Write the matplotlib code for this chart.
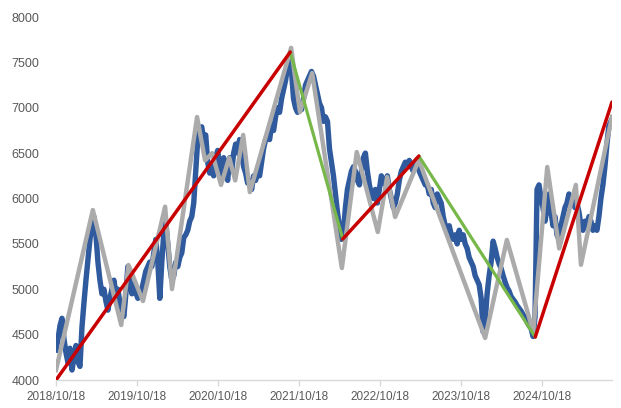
import matplotlib
matplotlib.use("Agg")
import matplotlib.pyplot as plt
import pandas as pd

# ---- data ----
blue_start = "2018-10-18"
blue_step_days = 9
blue_values = [
    4330, 4450, 4600, 4680, 4450, 4300, 4190, 4350, 4110, 4250,
    4380, 4200, 4150, 4580, 4850, 5100, 5320, 5550, 5700, 5800,
    5600, 5300, 5100, 4950, 5000, 4870, 4770, 4900, 5000, 5100,
    4950, 5000, 4850, 4750, 4700, 4950, 5250, 5100, 4950, 5050,
    4960, 4900, 4950, 5000, 5100, 5200, 5250, 5300, 5250, 5400,
    5550, 5300, 4900, 5300, 5620, 5730, 5500, 5250, 5100, 5150,
    5300, 5250, 5350, 5400, 5570, 5600, 5650, 5750, 5800, 5950,
    6300, 6650, 6750, 6790, 6650, 6700, 6400, 6280, 6350, 6250,
    6450, 6530, 6350, 6250, 6450, 6300, 6200, 6450, 6300, 6500,
    6600, 6500, 6650, 6500, 6350, 6280, 6170, 6200, 6100, 6250,
    6200, 6300, 6250, 6400, 6550, 6650, 6700, 6650, 6800, 6750,
    6900, 7000, 6950, 7100, 7200, 7300, 7450, 7550, 7400, 7100,
    7000, 6950, 7050, 6980, 7100, 7250, 7300, 7350, 7400, 7350,
    7250, 7150, 7050, 7000, 6850, 6900, 6850, 6550, 6400, 6250,
    6050, 5850, 5700, 5550, 5620, 5900, 6100, 6200, 6300, 6350,
    6300, 6200, 6150, 6300, 6450, 6500, 6300, 6150, 6050, 6000,
    6100, 5950, 6100, 6250, 6200, 6150, 6250, 6100, 6000, 5900,
    5950, 6050, 6200, 6300, 6350, 6400, 6380, 6420, 6350, 6300,
    6400, 6430, 6300, 6250, 6200, 6150, 6150, 6050, 6100, 5950,
    5900, 6050, 6000, 5950, 5800, 5700, 5650, 5700, 5600, 5550,
    5600, 5500, 5650, 5550, 5600, 5500, 5450, 5350, 5300, 5250,
    5150, 5100, 5050, 4900, 4530, 4650, 4950, 5150, 5300, 5530,
    5450, 5350, 5280, 5230, 5150, 5080, 5020, 4980, 4920, 4890,
    4860, 4820, 4790, 4760, 4720, 4690, 4640, 4600, 4570, 4480,
    4700, 6100, 6150, 6000, 5900, 5750, 5900, 6050, 5850, 5700,
    5800, 5600, 5550, 5700, 5800, 5900, 5950, 6050, 5950, 6000,
    5900, 5950, 5850, 5700, 5650, 5750, 5700, 5800, 5750, 5650,
    5700, 5650, 5800, 6000, 6150, 6350, 6600, 6800, 6850,
]

gray_dates = [
    "2018-10-18", "2019-04-02", "2019-08-08", "2019-09-10", "2019-11-14",
    "2020-02-22", "2020-03-24", "2020-07-15", "2020-08-20", "2020-09-21",
    "2020-10-31", "2020-12-07", "2021-01-03", "2021-02-08", "2021-03-10",
    "2021-09-12", "2021-10-22", "2021-12-16", "2022-04-29", "2022-07-05",
    "2022-10-08", "2022-11-19", "2022-12-25", "2023-04-11", "2024-02-04",
    "2024-05-12", "2024-09-08", "2024-11-10", "2025-01-03", "2025-03-19",
    "2025-04-11", "2025-08-29",
]
gray_values = [
    4110, 5873, 4606, 5267, 4870,
    5910, 5002, 6898, 6420, 6500,
    6150, 6450, 6200, 6700, 6070,
    7660, 6953, 7383, 5234, 6512,
    5631, 6237, 5796, 6424, 4463,
    5543, 4530, 6347, 5450, 6150,
    5270, 6900,
]

red_segments = [
    (("2018-10-18", 4000), ("2021-09-08", 7614)),
    (("2022-05-03", 5554), ("2023-04-11", 6468)),
    (("2024-09-17", 4474), ("2025-08-29", 7063)),
]
green_segments = [
    (("2021-09-08", 7614), ("2022-05-03", 5554)),
    (("2023-04-11", 6468), ("2024-09-17", 4474)),
]

tick_dates = ["2018-10-18", "2019-10-18", "2020-10-18", "2021-10-18",
              "2022-10-18", "2023-10-18", "2024-10-18"]
tick_labels = ["2018/10/18", "2019/10/18", "2020/10/18", "2021/10/18",
               "2022/10/18", "2023/10/18", "2024/10/18"]
y_ticks = [4000, 4500, 5000, 5500, 6000, 6500, 7000, 7500, 8000]

# ---- figure ----
plt.rcParams["font.family"] = ["Liberation Sans", "DejaVu Sans"]
fig = plt.figure(figsize=(6.21, 4.08), dpi=100)
ax = fig.add_axes([0.0902, 0.0686, 0.8953, 0.8897])

blue_dates = pd.date_range(blue_start, periods=len(blue_values),
                           freq=f"{blue_step_days}D")
ax.plot(blue_dates, blue_values, color="#2F5A9E", lw=3.9,
        solid_joinstyle="round", zorder=2)
ax.plot(pd.to_datetime(gray_dates), gray_values, color="#ABABAB", lw=3.2,
        solid_joinstyle="round", zorder=3)
for (d0, v0), (d1, v1) in green_segments:
    ax.plot(pd.to_datetime([d0, d1]), [v0, v1], color="#78B84A", lw=2.3,
            solid_capstyle="round", zorder=4)
for (d0, v0), (d1, v1) in red_segments:
    ax.plot(pd.to_datetime([d0, d1]), [v0, v1], color="#C80000", lw=2.5,
            solid_capstyle="round", zorder=5)

ax.set_ylim(4000, 8000)
ax.set_xlim(pd.Timestamp("2018-10-18"), pd.Timestamp("2025-08-29"))
ax.set_yticks(y_ticks)
ax.set_yticklabels([str(v) for v in y_ticks])
ax.set_xticks(pd.to_datetime(tick_dates))
ax.set_xticklabels(tick_labels)

for s in ["top", "right", "left"]:
    ax.spines[s].set_visible(False)
ax.spines["bottom"].set_color("#D9D9D9")
ax.spines["bottom"].set_linewidth(1.0)
ax.tick_params(axis="y", length=0, pad=12, labelsize=9, labelcolor="#595959")
ax.tick_params(axis="x", length=4, width=1.0, color="#D9D9D9", pad=4,
               labelsize=8.5, labelcolor="#595959")

fig.savefig("out.png", dpi=100)
